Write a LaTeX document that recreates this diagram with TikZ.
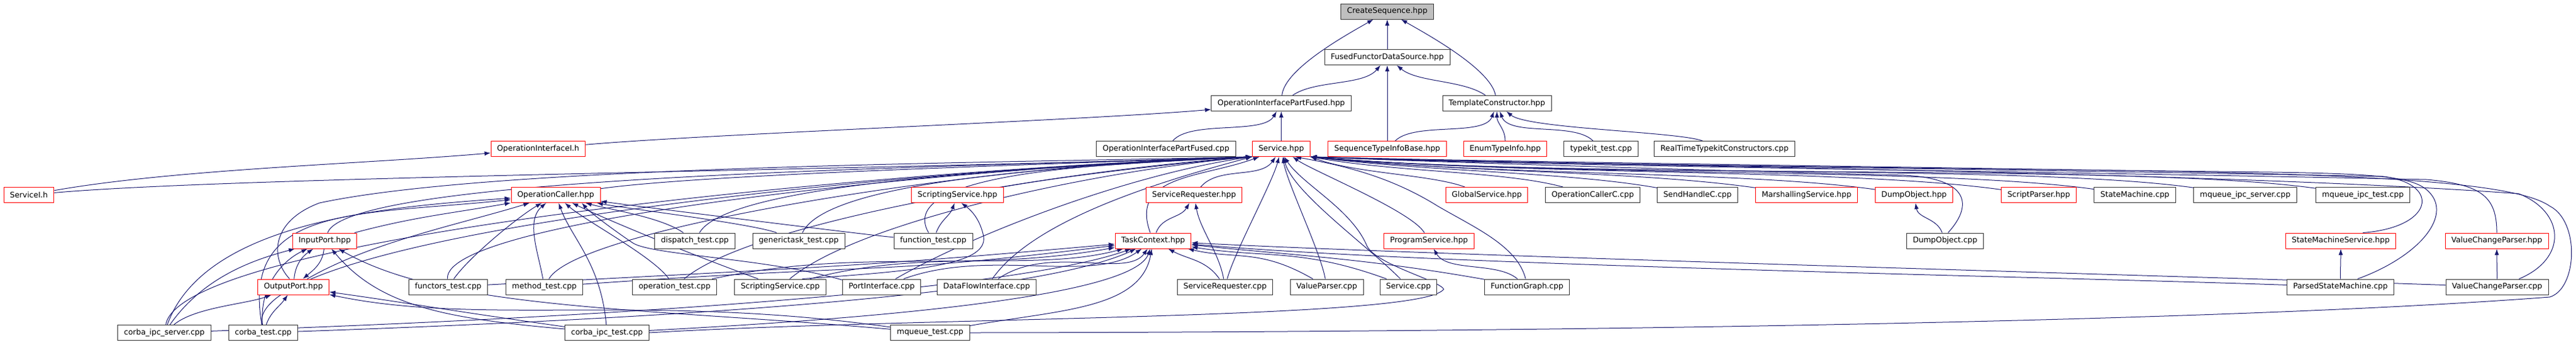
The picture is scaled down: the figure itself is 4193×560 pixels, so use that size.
\documentclass[tikz,border=0pt]{standalone}
\usepackage{fontspec}
\setmainfont{DejaVu Sans}
\usepackage{tikz}
\usetikzlibrary{arrows.meta, backgrounds, calc}

\definecolor{edgeblue}{HTML}{191970}
\definecolor{hdrgray}{HTML}{BFBFBF}

\begin{document}
\begin{tikzpicture}[x=0.25pt, y=0.25pt,
        file/.style={draw=black!80, fill=white, line width=0.25pt, minimum height=6.25pt,
            inner xsep=2.5pt, inner ysep=0.5pt, font=\fontsize{3.125}{3.5}\selectfont},
        redfile/.style={file, draw=red},
        hdr/.style={file, fill=hdrgray},
        dep/.style={draw=edgeblue, line width=0.25pt, -{Latex[length=2.5pt,width=1.75pt]},
            out=90, in=-90, max distance=11pt},
        far/.style={max distance=#1}]
        \useasboundingbox (0,0) rectangle (4193,-560);

        % Header and first levels
        \node[hdr] (CS) at (2258,-18.5) {CreateSequence.hpp};
        \node[file] (FFDS) at (2258,-93) {FusedFunctorDataSource.hpp};
        \node[file] (OIPF) at (2085.5,-168) {OperationInterfacePartFused.hpp};
        \node[file] (TC) at (2436.5,-168) {TemplateConstructor.hpp};

        % Row 3
        \node[redfile] (OII) at (876,-242) {OperationInterfaceI.h};
        \node[file] (OIPFcpp) at (1898,-242) {OperationInterfacePartFused.cpp};
        \node[redfile] (Svc) at (2085.5,-242) {Service.hpp};
        \node[redfile] (STIB) at (2258,-242) {SequenceTypeInfoBase.hpp};
        \node[redfile] (ETI) at (2450,-242) {EnumTypeInfo.hpp};
        \node[file] (TKT) at (2606,-242) {typekit\_test.cpp};
        \node[file] (RTTC) at (2807,-242) {RealTimeTypekitConstructors.cpp};

        % Row 4
        \node[redfile] (SvcI) at (47,-317) {ServiceI.h};
        \node[redfile] (OC) at (904.5,-317) {OperationCaller.hpp};
        \node[redfile] (SSh) at (1558.5,-317) {ScriptingService.hpp};
        \node[redfile] (SRh) at (1943.5,-317) {ServiceRequester.hpp};
        \node[redfile] (GS) at (2420,-317) {GlobalService.hpp};
        \node[file] (OCC) at (2592.5,-317) {OperationCallerC.cpp};
        \node[file] (SHC) at (2763,-317) {SendHandleC.cpp};
        \node[redfile] (MS) at (2940.5,-317) {MarshallingService.hpp};
        \node[redfile] (DOh) at (3115.5,-317) {DumpObject.hpp};
        \node[redfile] (SP) at (3318.5,-317) {ScriptParser.hpp};
        \node[file] (SM) at (3475,-317) {StateMachine.cpp};
        \node[file] (MIS) at (3654.5,-317) {mqueue\_ipc\_server.cpp};
        \node[file] (MIT) at (3846,-317) {mqueue\_ipc\_test.cpp};

        % Row 5
        \node[redfile] (IP) at (528.5,-391.5) {InputPort.hpp};
        \node[file] (DT) at (1131,-391.5) {dispatch\_test.cpp};
        \node[file] (GT) at (1300,-391.5) {generictask\_test.cpp};
        \node[file] (FT) at (1519,-391.5) {function\_test.cpp};
        \node[redfile] (TCx) at (1877,-391.5) {TaskContext.hpp};
        \node[redfile] (PS) at (2326,-391.5) {ProgramService.hpp};
        \node[file] (DOc) at (3166,-391.5) {DumpObject.cpp};
        \node[redfile] (SMS) at (3810,-391.5) {StateMachineService.hpp};
        \node[redfile] (VCPh) at (4064,-391.5) {ValueChangeParser.hpp};

        % Row 6
        \node[redfile] (OP) at (477.5,-466.5) {OutputPort.hpp};
        \node[file] (FuT) at (729.5,-466.5) {functors\_test.cpp};
        \node[file] (MT) at (886,-466.5) {method\_test.cpp};
        \node[file] (OT) at (1098,-466.5) {operation\_test.cpp};
        \node[file] (SSc) at (1270,-466.5) {ScriptingService.cpp};
        \node[file] (PI) at (1435,-466.5) {PortInterface.cpp};
        \node[file] (DFI) at (1606,-466.5) {DataFlowInterface.cpp};
        \node[file] (SRc) at (1994,-466.5) {ServiceRequester.cpp};
        \node[file] (VP) at (2159.5,-466.5) {ValueParser.cpp};
        \node[file] (Sc) at (2292.5,-466.5) {Service.cpp};
        \node[file] (FG) at (2485.5,-466.5) {FunctionGraph.cpp};
        \node[file] (PSM) at (3809.5,-466.5) {ParsedStateMachine.cpp};
        \node[file] (VCPc) at (4064.5,-466.5) {ValueChangeParser.cpp};

        % Row 7
        \node[file] (CIS) at (267.5,-541) {corba\_ipc\_server.cpp};
        \node[file] (CT) at (428.5,-541) {corba\_test.cpp};
        \node[file] (CIT) at (988,-541) {corba\_ipc\_test.cpp};
        \node[file] (MQT) at (1514,-541) {mqueue\_test.cpp};

        \begin{scope}[on background layer]
        \fill[white] (0,0) rectangle (4193,-560);

        % Top of the tree
        \draw[dep] (FFDS) to (CS);
        \draw[dep,out=85,in=-150] (OIPF) to (CS);
        \draw[dep,out=100,in=-30] (TC) to (CS);
        \draw[dep,out=35,in=-130] (OIPF) to (FFDS);
        \draw[dep] (STIB) to (FFDS);
        \draw[dep,out=145,in=-40] (TC) to (FFDS);
        \draw[dep,out=5,in=185,far=50pt] (OII) to (OIPF);
        \draw[dep,out=50,in=-120] (OIPFcpp) to (OIPF);
        \draw[dep] (Svc) to (OIPF);
        \draw[dep,out=45,in=-110] (STIB) to (TC);
        \draw[dep] (ETI) to (TC);
        \draw[dep,out=135,in=-70] (TKT) to (TC);
        \draw[dep,out=160,in=-40] (RTTC) to (TC);

        % ServiceI.h
        \draw[dep,out=10,in=185,far=50pt] (SvcI) to (OII);
        \draw[dep,out=5,in=-178,out distance=75pt,in distance=150pt] (SvcI) to (Svc.south west);

        % Into Service.hpp from the left
        \draw[dep,out=8,in=-178,out distance=40pt,in distance=100pt] (OC) to (Svc.south west);
        \draw[dep,out=70,in=-178,out distance=25pt,in distance=125pt] (IP) to (Svc.south west);
        \draw[dep] (OP.115) .. controls (440,-420) and (440,-360) .. (520,-330)
            .. controls (800,-270) and (1600,-265) .. (Svc.south west);
        \draw[dep,out=80,in=-178,out distance=37pt,in distance=150pt] (CIS) to (Svc.south west);
        \draw[dep,out=100,in=-178,out distance=37pt,in distance=150pt] (CT) to (Svc.south west);
        \draw[dep,out=95,in=-178,out distance=25pt,in distance=115pt] (FuT) to (Svc.south west);
        \draw[dep,out=60,in=-179,out distance=25pt,in distance=100pt] (MT) to (Svc.south west);
        \draw[dep,out=60,in=-177,out distance=25pt,in distance=75pt] (DT) to (Svc.south west);
        \draw[dep,out=65,in=-177,out distance=25pt,in distance=62pt] (GT) to (Svc.south west);
        \draw[dep,out=120,in=-177,out distance=30pt,in distance=50pt] (FT) to (Svc.south west);
        \draw[dep,out=10,in=-175,out distance=25pt,in distance=37pt] (SSh) to (Svc.south west);
        \draw[dep,out=40,in=-176,out distance=37pt,in distance=75pt] (OT) to (Svc.south west);
        \draw[dep,out=40,in=-175,out distance=37pt,in distance=62pt] (SSc) to (Svc.south west);
        \draw[dep,out=30,in=-172,out distance=37pt,in distance=50pt] (PI) to (Svc.south west);
        \draw[dep,out=55,in=-165,out distance=30pt,in distance=37pt] (DFI) to (Svc.south west);
        \draw[dep,out=110,in=-160,out distance=25pt,in distance=25pt] (TCx) to (Svc);
        \draw[dep,out=50,in=-125] (SRh) to (Svc);
        \draw[dep,out=75,in=-105] (SRc) to (Svc);
        \draw[dep] (CIT.east) .. controls (1500,-515) and (2320,-520) .. (2350,-470)
            .. controls (2340,-455) and (2240,-430) .. (2225,-400)
            .. controls (2200,-340) and (2120,-300) .. (Svc.-70);

        % Into Service.hpp from the right
        \draw[dep,out=100,in=-80] (VP) to (Svc);
        \draw[dep,out=135,in=-75,out distance=20pt,in distance=15pt] (Sc) to (Svc);
        \draw[dep] (FG.100) .. controls (2470,-400) and (2400,-370) .. (2340,-335)
            .. controls (2260,-285) and (2180,-268) .. (Svc.-30);
        \draw[dep,out=120,in=-35,out distance=10pt,in distance=10pt] (PS) to (Svc);
        \draw[dep,out=160,in=-20,out distance=15pt,in distance=20pt] (GS) to (Svc.south east);
        \draw[dep,out=165,in=-10,out distance=25pt,in distance=37pt] (OCC) to (Svc.south east);
        \draw[dep,out=170,in=-7,out distance=37pt,in distance=50pt] (SHC) to (Svc.south east);
        \draw[dep,out=172,in=-6,out distance=50pt,in distance=62pt] (MS) to (Svc.south east);
        \draw[dep,out=172,in=-6,out distance=55pt,in distance=75pt] (DOh) to (Svc.south east);
        \draw[dep,out=172,in=-5,out distance=62pt,in distance=87pt] (SP) to (Svc.south east);
        \draw[dep,out=172,in=-5,out distance=65pt,in distance=95pt] (SM) to (Svc.south east);
        \draw[dep,out=172,in=-5,out distance=70pt,in distance=100pt] (MIS) to (Svc.south east);
        \draw[dep,out=172,in=-5,out distance=75pt,in distance=110pt] (MIT) to (Svc.south east);
        \draw[dep] (DOc.70) .. controls (3215,-330) and (3200,-290) .. (3100,-285)
            .. controls (2700,-275) and (2300,-262) .. (Svc.south east);
        \draw[dep] (SMS.20) .. controls (3960,-370) and (3975,-300) .. (3880,-287)
            .. controls (3300,-275) and (2500,-268) .. (Svc.south east);
        \draw[dep] (PSM.25) .. controls (3930,-420) and (3985,-360) .. (3960,-320)
            .. controls (3940,-290) and (3900,-283) .. (3700,-280)
            .. controls (3000,-272) and (2500,-266) .. (Svc.south east);
        \draw[dep] (VCPh.north) .. controls (4064,-320) and (4040,-300) .. (3950,-292)
            .. controls (3300,-278) and (2500,-270) .. (Svc.south east);
        \draw[dep] (VCPc.20) .. controls (4180,-420) and (4175,-345) .. (4100,-315)
            .. controls (3600,-278) and (2500,-268) .. (Svc.south east);
        \draw[dep] (MQT.east) .. controls (2500,-540) and (3600,-525) .. (4150,-483)
            .. controls (4195,-470) and (4200,-360) .. (4150,-335)
            .. controls (4100,-300) and (3900,-285) .. (3500,-278)
            .. controls (3000,-270) and (2400,-262) .. (Svc.south east);

        % Into OperationCaller.hpp
        \draw[dep,out=70,in=184,out distance=45pt,in distance=50pt] (CIS) to (OC);
        \draw[dep,out=100,in=186,out distance=50pt,in distance=62pt] (CT) to (OC);
        \draw[dep,out=15,in=-170,out distance=25pt,in distance=25pt] (IP) to (OC);
        \draw[dep,out=30,in=-163,out distance=30pt,in distance=30pt] (OP) to (OC);
        \draw[dep,out=55,in=-150] (FuT) to (OC);
        \draw[dep,out=100,in=-140] (MT) to (OC);
        \draw[dep,out=95,in=-70,out distance=25pt,in distance=15pt] (CIT) to (OC);
        \draw[dep,out=125,in=-41] (OT) to (OC);
        \draw[dep,out=160,in=-26,out distance=35pt,in distance=12pt] (SSc) to (OC);
        \draw[dep] (PI.170) .. controls (1250,-420) and (1060,-415) .. (1030,-395)
            .. controls (1000,-375) and (960,-345) .. (OC.-17);
        \draw[dep,out=145,in=-15] (DT) to (OC);
        \draw[dep,out=160,in=-11] (GT) to (OC);
        \draw[dep,out=175,in=-8] (FT) to (OC);

        % InputPort.hpp and OutputPort.hpp
        \draw[dep,out=85,in=-145] (OP) to (IP);
        \draw[dep,out=-95,in=40] (IP) to (OP);
        \draw[dep,out=55,in=-165,out distance=25pt,in distance=15pt] (CIS) to (IP);
        \draw[dep,out=95,in=-155,out distance=15pt,in distance=12pt] (CT) to (IP);
        \draw[dep,out=175,in=-50,out distance=50pt,in distance=30pt] (CIT) to (IP);
        \draw[dep,out=175,in=-30,out distance=100pt,in distance=50pt] (MQT) to (IP);
        \draw[dep,out=40,in=-160] (CIS) to (OP);
        \draw[dep,out=70,in=-125] (CT) to (OP);
        \draw[dep,out=172,in=-8,out distance=50pt,in distance=37pt] (CIT) to (OP);
        \draw[dep,out=172,in=-12,out distance=100pt,in distance=62pt] (MQT) to (OP);

        % Into TaskContext.hpp
        \draw[dep,out=2,in=-160,out distance=225pt,in distance=37pt] (CIS) to (TCx);
        \draw[dep,out=2,in=-155,out distance=200pt,in distance=37pt] (CT) to (TCx);
        \draw[dep,out=3,in=185,out distance=150pt,in distance=100pt] (FuT) to (TCx);
        \draw[dep,out=4,in=187,out distance=125pt,in distance=100pt] (MT) to (TCx);
        \draw[dep,out=12,in=190,out distance=62pt,in distance=62pt] (OT) to (TCx);
        \draw[dep,out=15,in=-165,out distance=50pt,in distance=37pt] (SSc) to (TCx);
        \draw[dep,out=20,in=-145,out distance=37pt,in distance=25pt] (PI) to (TCx);
        \draw[dep,out=35,in=-125,out distance=25pt,in distance=15pt] (DFI) to (TCx);
        \draw[dep,out=3,in=-110,out distance=100pt,in distance=20pt] (CIT) to (TCx);
        \draw[dep,out=10,in=-100,out distance=37pt,in distance=25pt] (MQT) to (TCx);
        \draw[dep,out=125,in=-28] (SRc) to (TCx);
        \draw[dep,out=150,in=-13,out distance=25pt,in distance=20pt] (VP) to (TCx);
        \draw[dep,out=160,in=-9,out distance=37pt,in distance=30pt] (Sc) to (TCx);
        \draw[dep,out=170,in=-6,out distance=50pt,in distance=40pt] (FG) to (TCx);
        \draw[dep,out=178,in=-5,out distance=100pt,in distance=100pt] (PSM) to (TCx);
        \draw[dep,out=178,in=-3,out distance=100pt,in distance=100pt] (VCPc) to (TCx);

        % Remaining links
        \draw[dep,out=70,in=-120] (TCx) to (SRh);
        \draw[dep,out=100,in=-80] (SRc) to (SRh);
        \draw[dep,out=70,in=-110] (FT) to (SSh);
        \draw[dep] (SSc.20) .. controls (1500,-440) and (1615,-430) .. (1600,-380)
            .. controls (1595,-360) and (1585,-345) .. (SSh.-65);
        \draw[dep,out=140,in=-60] (FG) to (PS);
        \draw[dep,out=110,in=-80] (DOc) to (DOh);
        \draw[dep] (PSM) to (SMS);
        \draw[dep] (VCPc) to (VCPh);
        \end{scope}
\end{tikzpicture}
\end{document}
